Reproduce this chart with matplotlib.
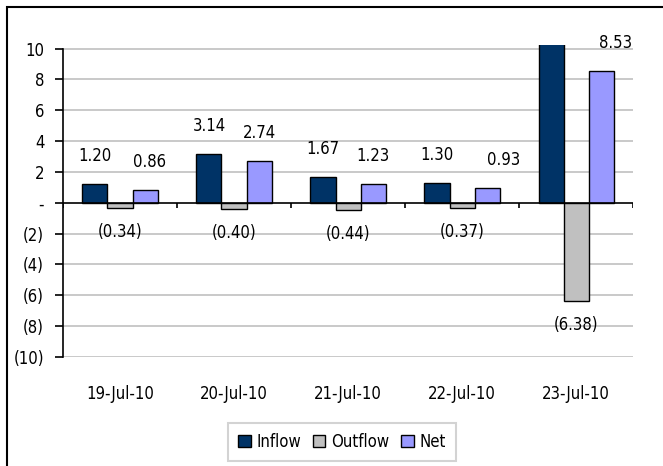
import matplotlib.pyplot as plt
import matplotlib.patches as mpatches
import numpy as np

# === Data ===
dates = ["19-Jul-10", "20-Jul-10", "21-Jul-10", "22-Jul-10", "23-Jul-10"]
inflow = [1.20, 3.14, 1.67, 1.30, 14.91]
outflow = [-0.34, -0.40, -0.44, -0.37, -6.38]
net = [0.86, 2.74, 1.23, 0.93, 8.53]

colors = {"Inflow": "#003366", "Outflow": "#C0C0C0", "Net": "#9999FF"}
# a few labels were dragged sideways in the original (pixels)
label_nudge = {("Net", 0): 4, ("Net", 3): 16, ("Net", 4): 14}

plt.rcParams['font.family'] = ['DejaVu Sans']
plt.rcParams['font.stretch'] = 'condensed'
plt.rcParams['font.size'] = 12

def fmt(v):
    if abs(v) < 1e-9:
        return "-"
    if v < 0:
        return f"({abs(v):.2f})" if v != int(v) else f"({abs(int(v))})"
    return f"{v:.2f}" if v != int(v) else f"{int(v)}"

fig = plt.figure(figsize=(6.63, 4.66), dpi=100)
ax = fig.add_axes([0.095, 0.234, 0.86, 0.670])

ymin, ymax = -10, 10
ax.set_ylim(ymin, 10.25)
x = np.arange(len(dates))
ax.set_xlim(-0.5, len(dates) - 0.5)
w = 0.22

series = [("Inflow", inflow, -w), ("Outflow", outflow, 0), ("Net", net, w)]
for name, vals, off in series:
    ax.bar(x + off, vals, width=w, color=colors[name], edgecolor="black",
           linewidth=1.0, zorder=3, label=name)
    for i, v in enumerate(vals):
        if v > ymax:
            continue  # off the scale, Excel drops the label
        dy = 28 if v >= 0 else -24
        dx = label_nudge.get((name, i), 0)
        ax.annotate(fmt(v), (x[i] + off, v), xytext=(dx * 0.72, dy * 0.72),
                    textcoords="offset points", ha="center", va="center", zorder=4)

# gridlines and axes
ticks = np.arange(ymin, ymax + 1, 2)
ax.set_yticks(ticks)
ax.set_yticklabels([fmt(t) for t in ticks])
for t in ticks:
    if t != 0:
        ax.axhline(t, color="#C0C0C0", linewidth=1.2, zorder=1)
ax.axhline(0, color="black", linewidth=1.2, zorder=4)
ax.vlines(np.arange(len(dates) + 1) - 0.5, -0.35, 0, color="black", linewidth=1.2, zorder=4)

for s in ["top", "right", "bottom"]:
    ax.spines[s].set_visible(False)
ax.spines["left"].set_bounds(ymin, ymax)
ax.spines["left"].set_linewidth(1.2)
ax.tick_params(axis="y", length=5.5, width=1.2, pad=8)
ax.set_xticks(x)
ax.set_xticklabels(dates)
ax.tick_params(axis="x", length=0, pad=20)

leg = ax.legend(loc="center", bbox_to_anchor=(342 / 663, 1 - 442 / 466),
                bbox_transform=fig.transFigure, ncol=3, frameon=True, fancybox=False,
                handlelength=0.75, handleheight=0.75, handletextpad=0.35,
                columnspacing=0.7, borderpad=0.6, borderaxespad=0)
leg.get_frame().set_edgecolor("#C8C8C8")
leg.get_frame().set_linewidth(1.5)

# outer border
fig.patches.append(mpatches.Rectangle((7 / 663, -0.1), 1.2, 1.1 - 7 / 466, transform=fig.transFigure,
                                      fill=False, edgecolor="black", linewidth=1.5))

plt.savefig("out.png", dpi=100)
